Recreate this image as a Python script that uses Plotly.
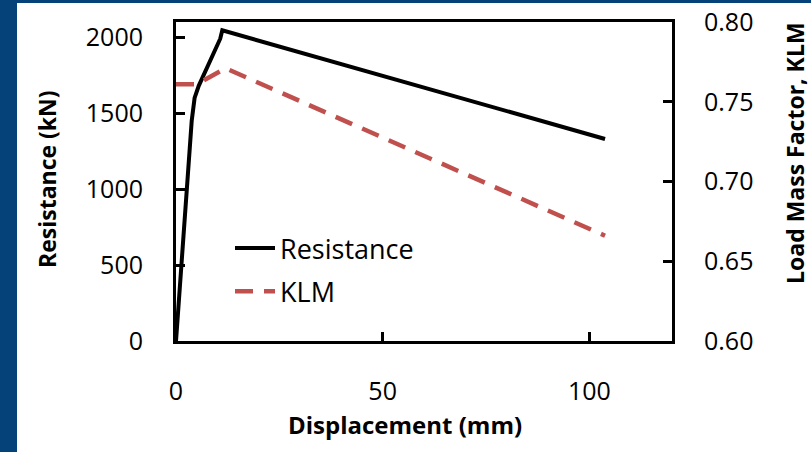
import plotly.graph_objects as go

# Resistance function (kN) vs. displacement (mm)
res_disp = [0.0, 3.3, 3.8, 4.5, 5.5, 10.7, 11.2, 103.8]
res_kn = [0, 1250, 1450, 1600, 1680, 1990, 2045, 1330]

# Load-mass factor KLM vs. displacement (mm)
klm_disp = [0.0, 5.0, 12.0, 103.8]
klm_val = [0.761, 0.761, 0.771, 0.666]

x_ticks = [0, 50, 100]
y_ticks = [0, 500, 1000, 1500, 2000]
y2_ticks = [0.60, 0.65, 0.70, 0.75, 0.80]
y2_labels = ["0.60", "0.65", "0.70", "0.75", "0.80"]

W, H = 811, 452
L, R, T, B = 176, 139, 22, 111
PW, PH = W - L - R, H - T - B

FONT = "Open Sans"
BLUE = "#05427A"
RED = "#C0504D"


def px(x):
    return (x - L) / PW


def py(y):
    return (H - B - y) / PH


fig = go.Figure()
fig.add_trace(go.Scatter(
    x=res_disp, y=res_kn, mode="lines", name="Resistance",
    line=dict(color="black", width=4), legendgroup="a",
))
fig.add_trace(go.Scatter(
    x=klm_disp, y=klm_val, mode="lines", name="KLM", yaxis="y2",
    line=dict(color=RED, width=4.5, dash="18px,11px"), legendgroup="b",
))

axis_common = dict(
    showgrid=False, zeroline=False, showline=True, linecolor="black",
    linewidth=3, ticks="inside", ticklen=9, tickwidth=3, tickcolor="black",
    tickfont=dict(family=FONT, size=25, color="black"), automargin=False,
)

fig.update_layout(
    width=W, height=H,
    margin=dict(l=L, r=R, t=T, b=B, pad=0, autoexpand=False),
    paper_bgcolor=BLUE, plot_bgcolor="white",
    showlegend=True,
    legend=dict(
        x=px(230), y=py(224), xanchor="left", yanchor="top",
        bgcolor="rgba(0,0,0,0)", font=dict(family=FONT, size=27, color="black"),
        tracegroupgap=5, itemwidth=40,
    ),
    xaxis=dict(range=[0, 120], tickvals=x_ticks, mirror=True,
               ticklabelstandoff=26, **axis_common),
    yaxis=dict(range=[0, 2100], tickvals=y_ticks, mirror=False,
               ticklabelstandoff=25, **axis_common),
    yaxis2=dict(range=[0.6, 0.8], tickvals=y2_ticks, ticktext=y2_labels,
                overlaying="y", side="right", ticklabelstandoff=24,
                **axis_common),
    shapes=[dict(
        type="rect", xref="paper", yref="paper", layer="below",
        x0=px(17), x1=px(W + 5), y0=py(H + 5), y1=py(3),
        fillcolor="white", line=dict(width=0),
    )],
    annotations=[
        dict(text="<b>Displacement (mm)</b>", xref="paper", yref="paper",
             x=px(405), y=py(424), xanchor="center", yanchor="middle",
             showarrow=False, font=dict(family=FONT, size=24, color="black")),
        dict(text="<b>Resistance (kN)</b>", xref="paper", yref="paper",
             x=px(47), y=py(179), xanchor="center", yanchor="middle",
             showarrow=False, textangle=-90,
             font=dict(family=FONT, size=23, color="black")),
        dict(text="<b>Load Mass Factor, KLM</b>", xref="paper", yref="paper",
             x=px(795), y=py(153), xanchor="center", yanchor="middle",
             showarrow=False, textangle=-90,
             font=dict(family=FONT, size=23, color="black")),
    ],
)

fig.write_html("out.html")
